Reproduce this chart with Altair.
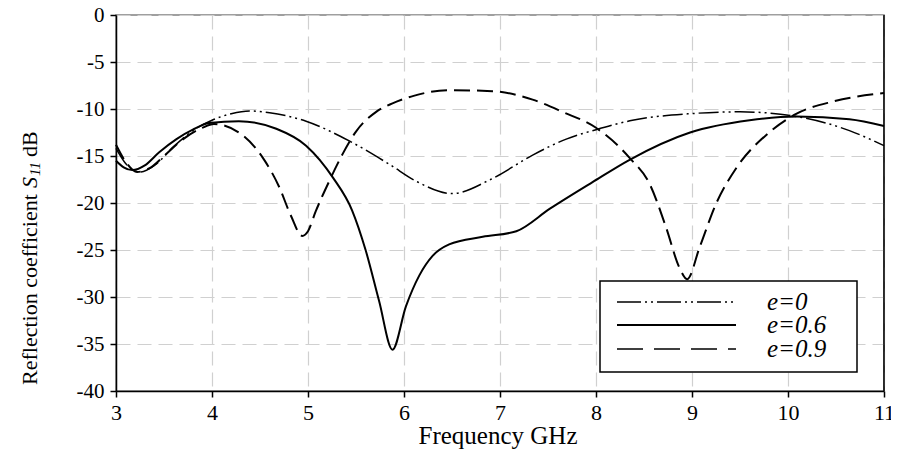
import altair as alt
import pandas as pd

# ---------------- data ----------------
freq_e0 = [3.0, 3.1, 3.25, 3.4, 3.6, 3.8, 4.0, 4.2, 4.39, 4.6, 4.98, 5.43, 5.85,
           6.13, 6.5, 6.92, 7.34, 7.69, 8.0, 8.38, 8.98, 9.5, 10.09, 10.64, 11.0]
s11_e0 = [-14.2, -15.8, -16.7, -16.0, -14.0, -12.3, -11.2, -10.5, -10.2, -10.4, -11.3,
          -13.4, -15.9, -17.7, -19.0, -17.4, -14.9, -13.2, -12.2, -11.2, -10.5, -10.3,
          -10.8, -12.3, -13.9]

freq_e06 = [3.0, 3.08, 3.17, 3.3, 3.45, 3.63, 3.8, 3.97, 4.28, 4.67, 4.98, 5.26,
            5.46, 5.6, 5.74, 5.88, 6.02, 6.16, 6.3, 6.47, 6.82, 7.17, 7.52, 7.96,
            8.35, 8.98, 9.6, 10.09, 10.64, 11.0]
s11_e06 = [-15.5, -16.2, -16.5, -16.0, -14.6, -13.2, -12.2, -11.5, -11.3, -12.1,
           -13.9, -17.3, -20.8, -25.0, -30.4, -35.6, -31.0, -27.7, -25.6, -24.4,
           -23.6, -23.0, -20.6, -17.8, -15.4, -12.5, -11.2, -10.8, -11.1, -11.8]

freq_e09 = [3.0, 3.1, 3.22, 3.35, 3.5, 3.7, 3.9, 4.02, 4.32, 4.53, 4.7, 4.82, 4.94,
            5.0, 5.08, 5.22, 5.36, 5.5, 5.71, 5.88, 6.1, 6.47, 6.92, 7.34, 7.65,
            8.0, 8.35, 8.56, 8.73, 8.87, 8.95, 9.08, 9.25, 9.46, 9.78, 10.09,
            10.47, 11.0]
s11_e09 = [-13.8, -15.6, -16.7, -16.3, -15.0, -13.2, -12.0, -11.6, -12.8, -15.2,
           -18.3, -21.3, -23.5, -23.0, -20.9, -17.7, -14.8, -12.4, -10.3, -9.4,
           -8.6, -8.0, -8.1, -9.0, -10.3, -12.0, -15.2, -18.0, -22.6, -26.9,
           -28.1, -24.7, -20.1, -16.3, -12.7, -10.5, -9.2, -8.3]

series_labels = ["e=0", "e=0.6", "e=0.9"]
x_ticks = [3, 4, 5, 6, 7, 8, 9, 10, 11]
y_ticks = [-40, -35, -30, -25, -20, -15, -10, -5, 0]
x_title = "Frequency GHz"
y_title_parts = ["Reflection coefficient", "S", "11", "dB"]

# ---------------- styling ----------------
FONT = "Liberation Serif"
W, H = 768, 376
DASH_E0 = [20, 4, 2, 4, 2, 4]
DASH_E09 = [16, 7]

xs = alt.Scale(domain=[3, 11], nice=False, zero=False)
ys = alt.Scale(domain=[-40, 0], nice=False, zero=False)

LABEL_EXPR = "'' + datum.value"
grid_kw = dict(grid=True, gridDash=[14, 7], gridColor="#d0d0d0", gridWidth=1.2)
xaxis = alt.Axis(values=x_ticks, title=None, labelExpr=LABEL_EXPR, domainColor="black",
                 domainWidth=1.5, tickColor="black", tickSize=6, tickWidth=1.5,
                 labelFont=FONT, labelFontSize=22, labelColor="black",
                 labelPadding=5, labelFlush=False, labelOverlap=False, **grid_kw)
yaxis = alt.Axis(values=y_ticks, title=None, labelExpr=LABEL_EXPR, domainColor="black",
                 domainWidth=1.5, tickColor="black", tickSize=6, tickWidth=1.5,
                 labelFont=FONT, labelFontSize=21, labelColor="black",
                 labelPadding=6, labelFlush=False, labelOverlap=False, **grid_kw)


def curve(f, s, dash, width):
    df = pd.DataFrame({"f": f, "s": s})
    kw = dict(color="black", strokeWidth=width, interpolate="monotone")
    if dash:
        kw["strokeDash"] = dash
    return alt.Chart(df).mark_line(**kw).encode(
        x=alt.X("f:Q", scale=xs, axis=xaxis),
        y=alt.Y("s:Q", scale=ys, axis=yaxis),
    )


one = pd.DataFrame({"k": [0]})

lines = [
    curve(freq_e0, s11_e0, DASH_E0, 1.5),
    curve(freq_e06, s11_e06, None, 2),
    curve(freq_e09, s11_e09, DASH_E09, 2),
]

right_border = alt.Chart(pd.DataFrame({"f": [x_ticks[-1]]})).mark_rule(
    color="black", strokeWidth=1.5).encode(x=alt.X("f:Q", scale=xs, axis=xaxis))

# legend box
legend_box = alt.Chart(one).mark_rect(fill="white", stroke="black", strokeWidth=1.5).encode(
    x=alt.value(484), x2=alt.value(741), y=alt.value(266), y2=alt.value(357))

legend_layers = []
rows_y = [287, 310, 334]
dashes = [[24, 4, 2, 4, 2, 4], None, [26, 11]]
for lab, yy, d in zip(series_labels, rows_y, dashes):
    kw = dict(color="black", strokeWidth=1.5 if d is not None else 2)
    if d:
        kw["strokeDash"] = d
    legend_layers.append(alt.Chart(one).mark_rule(**kw).encode(
        x=alt.value(501), x2=alt.value(620), y=alt.value(yy)))
    legend_layers.append(alt.Chart(pd.DataFrame({"t": [lab]})).mark_text(
        font=FONT, fontSize=25, fontStyle="italic", align="left", baseline="middle",
        color="black").encode(text="t:N", x=alt.value(651), y=alt.value(yy)))

# axis titles
x_title_mark = alt.Chart(pd.DataFrame({"t": [x_title]})).mark_text(
    font=FONT, fontSize=25, align="center", baseline="alphabetic", color="black").encode(
    text="t:N", x=alt.value(382), y=alt.value(429))

yt_x = -86
y_title_marks = [
    alt.Chart(pd.DataFrame({"t": [y_title_parts[0]]})).mark_text(
        font=FONT, fontSize=22, angle=270, align="left", baseline="middle", color="black"
    ).encode(text="t:N", x=alt.value(yt_x), y=alt.value(370)),
    alt.Chart(pd.DataFrame({"t": [y_title_parts[1]]})).mark_text(
        font=FONT, fontSize=22, fontStyle="italic", angle=270, align="left",
        baseline="middle", color="black"
    ).encode(text="t:N", x=alt.value(yt_x), y=alt.value(173)),
    alt.Chart(pd.DataFrame({"t": [y_title_parts[2]]})).mark_text(
        font=FONT, fontSize=15, fontStyle="italic", angle=270, align="left",
        baseline="middle", color="black"
    ).encode(text="t:N", x=alt.value(yt_x + 5), y=alt.value(161)),
    alt.Chart(pd.DataFrame({"t": [y_title_parts[3]]})).mark_text(
        font=FONT, fontSize=22, angle=270, align="left", baseline="middle", color="black"
    ).encode(text="t:N", x=alt.value(yt_x), y=alt.value(142)),
]

chart = alt.layer(
    *lines, right_border, legend_box, *legend_layers, x_title_mark, *y_title_marks
).properties(
    width=W, height=H,
    autosize=alt.AutoSizeParams(type="none"),
    padding={"left": 108, "top": 7, "right": 7, "bottom": 58},
    background="white",
).configure_view(
    stroke="#808080", strokeWidth=1.5
).configure_axis(
    labelFont=FONT, labelColor="black"
)

chart.save("out.html", embed_options={"renderer": "svg", "actions": False})
